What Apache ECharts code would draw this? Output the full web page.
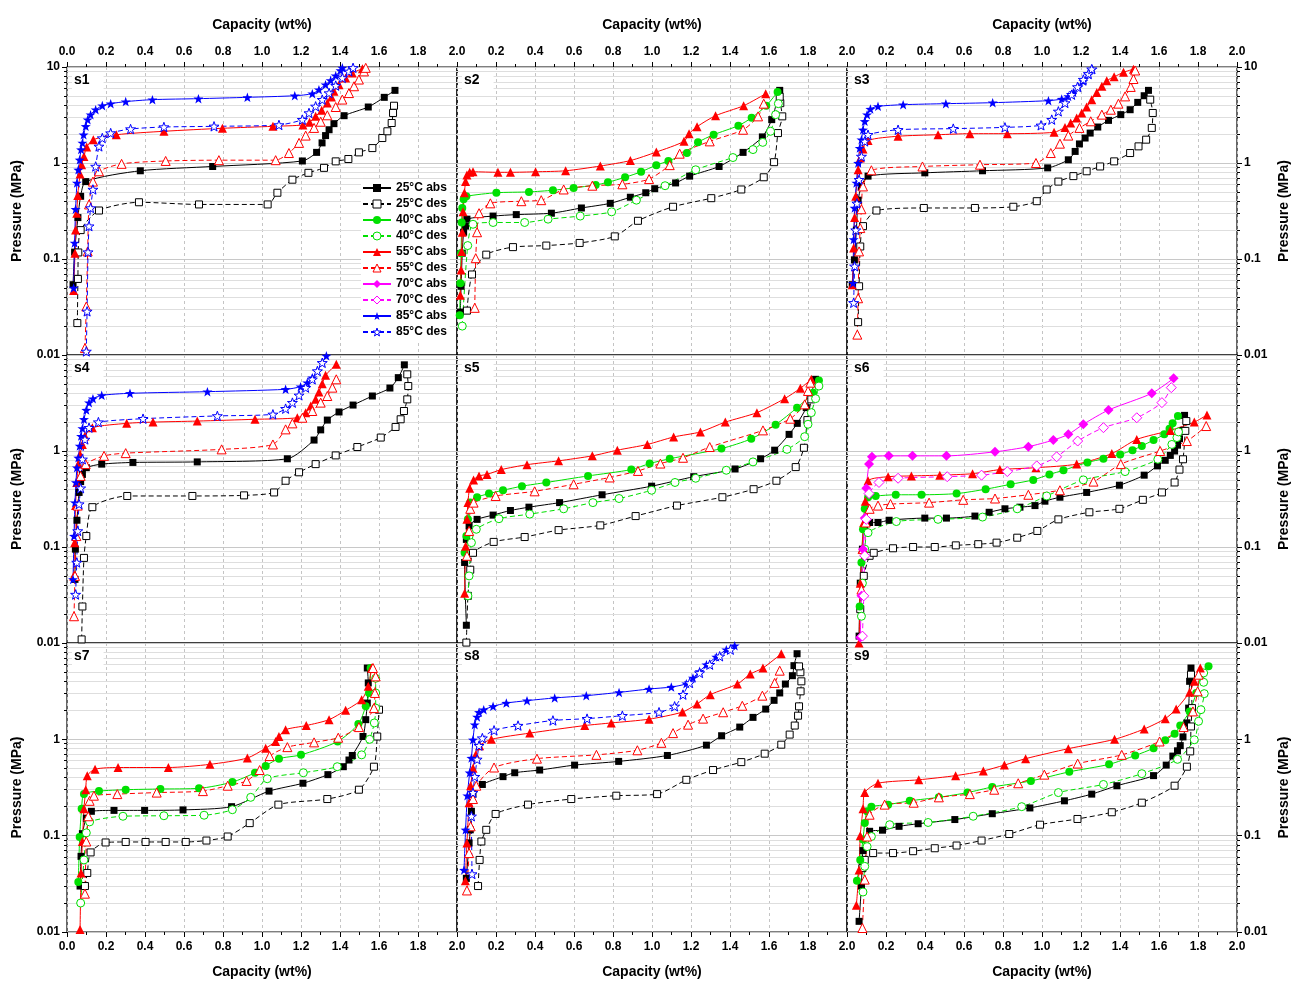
<!DOCTYPE html>
<html>
<head>
<meta charset="utf-8">
<script src="https://cdn.jsdelivr.net/npm/echarts@6/dist/echarts.min.js"></script>
<style>
  html, body { margin: 0; padding: 0; background: #fff; }
  #chart { width: 1293px; height: 983px; }
</style>
</head>
<body>
<div id="chart"></div>
<script>
// ---- data: [capacity wt%, pressure MPa] ----
const s1_a25 = [[0.031,0.054],[0.039,0.118],[0.056,0.27],[0.07,0.45],[0.096,0.64],[0.376,0.83],[0.747,0.92],[1.207,1.05],[1.28,1.29],[1.308,1.62],[1.326,1.93],[1.344,2.22],[1.369,2.57],[1.421,3.11],[1.545,3.83],[1.627,4.83],[1.682,5.71]];
const s1_d25 = [[0.053,0.0215],[0.056,0.062],[0.058,0.117],[0.07,0.2],[0.164,0.32],[0.369,0.39],[0.677,0.37],[1.029,0.37],[1.079,0.49],[1.156,0.67],[1.238,0.79],[1.318,0.89],[1.378,1.04],[1.443,1.1],[1.497,1.29],[1.566,1.43],[1.617,1.82],[1.643,2.14],[1.665,2.61],[1.672,3.32],[1.677,3.95]];
const s1_a55 = [[0.034,0.047],[0.041,0.115],[0.044,0.2],[0.05,0.3],[0.055,0.46],[0.067,0.77],[0.075,0.96],[0.087,1.17],[0.101,1.47],[0.135,1.75],[0.253,1.97],[0.497,2.14],[0.797,2.3],[1.056,2.41],[1.21,2.49],[1.244,2.66],[1.275,3.06],[1.306,3.54],[1.335,4.22],[1.356,4.87],[1.369,5.58],[1.395,6.55],[1.429,7.68],[1.463,8.66],[1.515,9.6]];
const s1_d55 = [[0.092,0.0118],[0.099,0.032],[0.106,0.12],[0.113,0.37],[0.133,0.64],[0.164,0.82],[0.28,0.98],[0.506,1.05],[0.779,1.07],[1.07,1.07],[1.138,1.27],[1.19,1.62],[1.224,1.93],[1.267,2.32],[1.301,2.69],[1.335,3.14],[1.378,3.83],[1.412,4.58],[1.446,5.35],[1.472,6.3],[1.497,7.4],[1.523,9.0],[1.532,9.8]];
const s1_a85 = [[0.034,0.05],[0.039,0.147],[0.044,0.33],[0.051,0.62],[0.058,0.85],[0.065,1.08],[0.072,1.38],[0.079,1.62],[0.085,1.97],[0.096,2.41],[0.106,2.83],[0.121,3.19],[0.147,3.59],[0.181,3.96],[0.224,4.15],[0.301,4.36],[0.438,4.57],[0.674,4.68],[0.925,4.83],[1.168,5.02],[1.258,5.27],[1.292,5.81],[1.326,6.55],[1.352,7.26],[1.378,8.12],[1.403,9.2],[1.412,9.8]];
const s1_d85 = [[0.099,0.0109],[0.103,0.0285],[0.108,0.118],[0.113,0.22],[0.121,0.34],[0.133,0.53],[0.147,0.92],[0.164,1.49],[0.181,1.82],[0.224,2.05],[0.326,2.26],[0.497,2.37],[0.754,2.41],[1.087,2.49],[1.207,2.83],[1.241,3.32],[1.275,3.89],[1.309,4.57],[1.344,5.36],[1.378,6.4],[1.412,7.7],[1.446,9.0],[1.467,9.8]];

const s2_a25 = [[0.017,0.028],[0.021,0.052],[0.027,0.115],[0.034,0.19],[0.044,0.22],[0.051,0.26],[0.185,0.28],[0.304,0.29],[0.484,0.3],[0.638,0.34],[0.786,0.38],[0.889,0.44],[0.968,0.49],[1.014,0.54],[1.121,0.62],[1.193,0.73],[1.344,0.92],[1.467,1.29],[1.566,1.87],[1.614,2.83],[1.655,5.71]];
const s2_d25 = [[0.051,0.029],[0.077,0.069],[0.15,0.111],[0.287,0.133],[0.458,0.138],[0.629,0.147],[0.809,0.172],[0.928,0.25],[1.108,0.35],[1.304,0.43],[1.458,0.53],[1.573,0.71],[1.626,1.02],[1.646,2.05],[1.668,3.06],[1.658,4.2],[1.655,4.9]];
const s2_a40 = [[0.014,0.026],[0.017,0.056],[0.021,0.115],[0.024,0.24],[0.027,0.34],[0.034,0.42],[0.048,0.45],[0.202,0.49],[0.369,0.5],[0.492,0.52],[0.598,0.55],[0.711,0.59],[0.774,0.63],[0.862,0.71],[0.944,0.81],[1.022,0.95],[1.084,1.05],[1.179,1.27],[1.236,1.64],[1.316,1.97],[1.443,2.45],[1.511,2.96],[1.586,3.95],[1.644,5.5]];
const s2_d40 = [[0.027,0.02],[0.055,0.138],[0.082,0.23],[0.185,0.24],[0.347,0.24],[0.467,0.26],[0.632,0.28],[0.793,0.31],[0.92,0.41],[1.067,0.58],[1.224,0.85],[1.415,1.14],[1.518,1.38],[1.568,1.64],[1.608,2.14],[1.634,3.19],[1.648,4.15]];
const s2_a55 = [[0.017,0.042],[0.021,0.077],[0.024,0.12],[0.027,0.19],[0.031,0.31],[0.038,0.49],[0.044,0.64],[0.051,0.75],[0.065,0.8],[0.082,0.81],[0.21,0.8],[0.274,0.8],[0.403,0.81],[0.557,0.83],[0.735,0.93],[0.889,1.06],[1.022,1.3],[1.164,1.68],[1.19,2.02],[1.231,2.39],[1.326,3.11],[1.47,3.95],[1.583,5.27]];
const s2_d55 = [[0.091,0.031],[0.096,0.102],[0.103,0.19],[0.113,0.3],[0.171,0.38],[0.33,0.4],[0.432,0.41],[0.547,0.53],[0.694,0.58],[0.848,0.6],[0.985,0.68],[1.091,0.95],[1.142,1.25],[1.296,1.68],[1.467,2.22],[1.544,3.06],[1.573,4.15]];

const s3_a25 = [[0.027,0.054],[0.038,0.098],[0.048,0.2],[0.057,0.41],[0.074,0.57],[0.108,0.73],[0.399,0.79],[0.695,0.83],[1.029,0.89],[1.135,1.08],[1.17,1.32],[1.192,1.58],[1.221,1.82],[1.247,2.05],[1.286,2.37],[1.341,2.78],[1.404,3.19],[1.452,3.59],[1.491,4.28],[1.524,5.02],[1.546,5.71]];
const s3_d25 = [[0.057,0.022],[0.062,0.052],[0.068,0.135],[0.082,0.22],[0.151,0.32],[0.394,0.34],[0.656,0.34],[0.853,0.35],[0.973,0.4],[1.024,0.53],[1.084,0.64],[1.161,0.73],[1.229,0.82],[1.298,0.92],[1.37,1.04],[1.452,1.27],[1.495,1.49],[1.534,1.75],[1.563,2.32],[1.568,3.32],[1.555,4.57]];
const s3_a55 = [[0.027,0.054],[0.034,0.13],[0.039,0.27],[0.045,0.45],[0.057,0.85],[0.068,1.13],[0.082,1.4],[0.108,1.72],[0.262,1.9],[0.467,1.97],[0.63,2.02],[0.822,2.02],[1.062,2.09],[1.118,2.35],[1.147,2.61],[1.178,2.94],[1.204,3.32],[1.229,3.83],[1.255,4.57],[1.281,5.44],[1.307,6.29],[1.332,7.2],[1.37,7.9],[1.418,8.8],[1.469,9.5]];
const s3_d55 = [[0.053,0.0163],[0.057,0.039],[0.062,0.12],[0.068,0.21],[0.074,0.33],[0.082,0.57],[0.125,0.84],[0.387,0.92],[0.682,0.96],[0.969,1.0],[1.045,1.27],[1.092,1.59],[1.135,1.93],[1.192,2.32],[1.25,2.72],[1.307,3.19],[1.353,3.59],[1.392,4.15],[1.426,4.94],[1.455,6.2],[1.469,7.5],[1.478,9.2]];
const s3_a85 = [[0.031,0.056],[0.034,0.16],[0.039,0.34],[0.048,0.62],[0.057,1.0],[0.065,1.43],[0.074,1.75],[0.082,2.22],[0.091,2.72],[0.103,3.19],[0.12,3.65],[0.159,3.89],[0.288,4.05],[0.507,4.15],[0.747,4.25],[1.033,4.46],[1.101,4.64],[1.135,4.94],[1.161,5.44],[1.187,6.2],[1.212,7.1],[1.238,8.3],[1.259,9.5]];
const s3_d85 = [[0.034,0.035],[0.039,0.084],[0.045,0.2],[0.051,0.38],[0.062,0.67],[0.074,1.17],[0.091,1.68],[0.108,1.97],[0.262,2.22],[0.545,2.28],[0.81,2.35],[0.995,2.47],[1.05,2.83],[1.084,3.45],[1.118,4.22],[1.152,5.15],[1.182,6.2],[1.212,7.4],[1.238,8.5],[1.255,9.5]];

const s4_a25 = [[0.041,0.046],[0.043,0.095],[0.051,0.19],[0.062,0.37],[0.07,0.48],[0.079,0.57],[0.099,0.67],[0.178,0.73],[0.338,0.76],[0.668,0.77],[1.13,0.83],[1.267,1.3],[1.301,1.66],[1.335,2.1],[1.395,2.55],[1.467,3.01],[1.566,3.74],[1.656,4.53],[1.699,5.81],[1.73,7.9]];
const s4_d25 = [[0.075,0.0109],[0.079,0.024],[0.087,0.077],[0.099,0.13],[0.13,0.26],[0.309,0.34],[0.643,0.34],[0.908,0.345],[1.062,0.37],[1.121,0.49],[1.19,0.6],[1.275,0.73],[1.378,0.9],[1.489,1.1],[1.609,1.38],[1.685,1.78],[1.711,2.14],[1.728,2.61],[1.745,3.45],[1.75,4.75],[1.745,6.29]];
const s4_a55 = [[0.034,0.05],[0.039,0.111],[0.044,0.27],[0.05,0.47],[0.058,0.73],[0.067,0.92],[0.079,1.17],[0.092,1.43],[0.13,1.75],[0.306,1.94],[0.441,2.0],[0.668,2.05],[0.964,2.14],[1.181,2.22],[1.224,2.51],[1.25,2.94],[1.275,3.45],[1.292,4.12],[1.309,5.02],[1.326,6.14],[1.381,8.0]];
const s4_d55 = [[0.036,0.019],[0.041,0.05],[0.048,0.13],[0.055,0.27],[0.07,0.55],[0.096,0.73],[0.19,0.89],[0.301,0.95],[0.793,1.04],[1.056,1.17],[1.121,1.68],[1.156,1.94],[1.207,2.22],[1.258,2.61],[1.301,3.19],[1.335,3.74],[1.361,4.57],[1.381,5.58]];
const s4_a85 = [[0.031,0.046],[0.036,0.13],[0.041,0.29],[0.046,0.47],[0.051,0.67],[0.058,0.85],[0.065,1.13],[0.072,1.43],[0.079,1.72],[0.087,2.14],[0.099,2.67],[0.113,3.19],[0.133,3.51],[0.178,3.8],[0.323,3.99],[0.72,4.15],[1.121,4.39],[1.198,4.68],[1.232,5.15],[1.258,5.81],[1.284,6.81],[1.309,8.3],[1.33,9.8]];
const s4_d85 = [[0.044,0.032],[0.05,0.069],[0.055,0.147],[0.062,0.28],[0.07,0.41],[0.079,0.82],[0.092,1.32],[0.113,1.75],[0.161,2.0],[0.39,2.17],[0.771,2.32],[1.056,2.41],[1.121,2.76],[1.156,3.19],[1.19,3.8],[1.224,4.57],[1.258,5.58],[1.284,6.81],[1.309,8.3]];

const s5_a25 = [[0.048,0.0153],[0.039,0.069],[0.048,0.12],[0.062,0.166],[0.103,0.194],[0.185,0.215],[0.274,0.24],[0.369,0.26],[0.526,0.29],[0.744,0.35],[0.998,0.43],[1.214,0.54],[1.426,0.65],[1.557,0.83],[1.629,1.02],[1.703,1.49],[1.745,1.94],[1.791,2.83],[1.839,5.58]];
const s5_d25 = [[0.048,0.0101],[0.056,0.031],[0.068,0.058],[0.082,0.087],[0.188,0.113],[0.347,0.127],[0.521,0.15],[0.735,0.168],[0.916,0.21],[1.128,0.27],[1.361,0.33],[1.521,0.4],[1.638,0.49],[1.737,0.68],[1.779,1.08],[1.797,2.1],[1.817,3.45]];
const s5_a40 = [[0.039,0.087],[0.048,0.13],[0.056,0.194],[0.068,0.29],[0.103,0.33],[0.164,0.36],[0.236,0.39],[0.333,0.43],[0.458,0.47],[0.672,0.55],[0.894,0.64],[0.988,0.74],[1.091,0.83],[1.356,1.06],[1.509,1.34],[1.634,1.88],[1.744,2.83],[1.826,4.05],[1.856,5.44]];
const s5_d40 = [[0.056,0.031],[0.062,0.05],[0.074,0.111],[0.099,0.153],[0.215,0.197],[0.373,0.22],[0.547,0.25],[0.697,0.29],[0.831,0.32],[0.998,0.39],[1.118,0.47],[1.224,0.52],[1.381,0.63],[1.518,0.77],[1.692,1.04],[1.783,1.41],[1.8,1.9],[1.817,2.51],[1.839,3.51],[1.856,4.75]];
const s5_a55 = [[0.039,0.033],[0.044,0.102],[0.051,0.194],[0.056,0.29],[0.065,0.41],[0.085,0.5],[0.113,0.55],[0.154,0.57],[0.227,0.64],[0.359,0.72],[0.521,0.79],[0.694,0.89],[0.822,1.02],[0.976,1.17],[1.111,1.4],[1.248,1.58],[1.376,2.0],[1.538,2.51],[1.68,3.51],[1.761,4.5],[1.817,5.58]];
const s5_d55 = [[0.051,0.081],[0.062,0.147],[0.068,0.25],[0.085,0.29],[0.198,0.34],[0.398,0.38],[0.598,0.45],[0.783,0.53],[0.928,0.62],[1.043,0.74],[1.159,0.85],[1.296,1.1],[1.569,1.64],[1.709,2.17],[1.783,3.06],[1.8,4.22],[1.812,5.15]];

const s6_a25 = [[0.062,0.0118],[0.068,0.042],[0.079,0.095],[0.091,0.153],[0.116,0.18],[0.159,0.18],[0.216,0.19],[0.399,0.2],[0.51,0.2],[0.656,0.21],[0.729,0.23],[0.81,0.25],[0.887,0.26],[0.964,0.27],[1.015,0.3],[1.092,0.33],[1.229,0.37],[1.397,0.44],[1.524,0.56],[1.592,0.7],[1.632,0.8],[1.658,0.9],[1.68,1.0],[1.695,1.15],[1.705,1.34],[1.723,1.64],[1.731,2.35]];
const s6_d25 = [[0.068,0.0225],[0.086,0.05],[0.116,0.081],[0.137,0.087],[0.236,0.097],[0.339,0.1],[0.45,0.1],[0.558,0.104],[0.673,0.107],[0.767,0.111],[0.873,0.125],[0.976,0.147],[1.084,0.194],[1.243,0.23],[1.397,0.25],[1.517,0.31],[1.615,0.37],[1.68,0.47],[1.705,0.64],[1.723,0.82],[1.735,1.62],[1.74,2.05]];
const s6_a40 = [[0.065,0.024],[0.074,0.069],[0.082,0.153],[0.091,0.25],[0.108,0.33],[0.147,0.34],[0.25,0.35],[0.382,0.35],[0.562,0.36],[0.711,0.4],[0.839,0.45],[0.955,0.5],[1.038,0.57],[1.11,0.63],[1.233,0.76],[1.315,0.83],[1.401,0.92],[1.464,1.02],[1.512,1.13],[1.572,1.3],[1.627,1.49],[1.654,1.71],[1.67,1.94],[1.697,2.32]];
const s6_d40 = [[0.074,0.019],[0.079,0.042],[0.091,0.095],[0.108,0.141],[0.253,0.184],[0.467,0.194],[0.695,0.205],[0.873,0.25],[1.024,0.34],[1.212,0.5],[1.426,0.61],[1.594,0.82],[1.666,1.17],[1.692,1.38],[1.7,1.58]];
const s6_a55 = [[0.062,0.01],[0.068,0.042],[0.077,0.095],[0.086,0.18],[0.094,0.3],[0.108,0.49],[0.211,0.54],[0.33,0.55],[0.476,0.56],[0.644,0.58],[0.784,0.64],[0.969,0.67],[1.178,0.73],[1.358,0.94],[1.486,1.32],[1.658,1.64],[1.781,2.0],[1.846,2.37]];
const s6_d55 = [[0.074,0.036],[0.082,0.095],[0.096,0.18],[0.116,0.25],[0.159,0.27],[0.223,0.28],[0.421,0.29],[0.596,0.31],[0.759,0.32],[0.93,0.35],[1.092,0.39],[1.264,0.48],[1.404,0.73],[1.606,1.0],[1.743,1.27],[1.842,1.82]];
const s6_a70 = [[0.068,0.0114],[0.074,0.031],[0.082,0.095],[0.091,0.2],[0.099,0.41],[0.113,0.73],[0.128,0.87],[0.214,0.89],[0.336,0.89],[0.51,0.89],[0.759,0.98],[0.93,1.11],[1.058,1.3],[1.135,1.49],[1.212,1.9],[1.341,2.67],[1.563,3.99],[1.675,5.71]];
const s6_d70 = [[0.079,0.0118],[0.086,0.031],[0.091,0.081],[0.099,0.194],[0.113,0.36],[0.164,0.47],[0.262,0.52],[0.514,0.54],[0.69,0.56],[0.822,0.61],[0.973,0.7],[1.075,0.87],[1.183,1.27],[1.315,1.75],[1.486,2.22],[1.615,3.19],[1.663,4.57]];

const s7_a25 = [[0.067,0.03],[0.072,0.061],[0.079,0.105],[0.099,0.152],[0.125,0.179],[0.241,0.183],[0.398,0.183],[0.595,0.185],[0.844,0.2],[1.036,0.29],[1.21,0.35],[1.338,0.43],[1.417,0.52],[1.446,0.61],[1.463,0.68],[1.518,1.07],[1.532,1.6],[1.54,2.38],[1.545,3.85],[1.54,5.5]];
const s7_d25 = [[0.092,0.03],[0.104,0.041],[0.121,0.067],[0.198,0.085],[0.301,0.086],[0.403,0.086],[0.506,0.086],[0.609,0.086],[0.715,0.089],[0.824,0.098],[0.937,0.135],[1.084,0.21],[1.335,0.24],[1.497,0.3],[1.574,0.52],[1.591,1.07],[1.6,2.03]];
const s7_a40 = [[0.058,0.033],[0.065,0.097],[0.075,0.19],[0.087,0.27],[0.164,0.29],[0.301,0.3],[0.479,0.305],[0.677,0.31],[0.848,0.36],[0.964,0.45],[1.019,0.53],[1.087,0.63],[1.2,0.69],[1.388,0.95],[1.494,1.44],[1.532,2.2],[1.549,3.03],[1.557,5.5]];
const s7_d40 = [[0.07,0.02],[0.087,0.056],[0.099,0.107],[0.116,0.139],[0.287,0.159],[0.497,0.161],[0.703,0.163],[0.848,0.186],[0.942,0.25],[1.027,0.39],[1.212,0.45],[1.386,0.52],[1.511,0.69],[1.552,1.0],[1.576,1.48],[1.583,2.11],[1.583,3.03],[1.583,4.3]];
const s7_a55 = [[0.067,0.0106],[0.072,0.041],[0.079,0.087],[0.087,0.19],[0.096,0.3],[0.104,0.42],[0.144,0.49],[0.262,0.51],[0.52,0.51],[0.733,0.55],[0.925,0.64],[1.019,0.81],[1.07,0.95],[1.087,1.07],[1.121,1.26],[1.227,1.39],[1.344,1.6],[1.429,2.0],[1.511,2.58],[1.545,3.55],[1.562,5.5]];
const s7_d55 = [[0.092,0.025],[0.099,0.087],[0.109,0.159],[0.116,0.23],[0.138,0.26],[0.258,0.27],[0.46,0.28],[0.697,0.29],[0.824,0.33],[0.921,0.37],[0.988,0.48],[1.039,0.67],[1.13,0.83],[1.267,0.93],[1.391,1.04],[1.497,1.34],[1.574,2.11],[1.579,3.03],[1.583,4.5],[1.569,5.5]];

const s8_a25 = [[0.048,0.036],[0.062,0.084],[0.068,0.115],[0.074,0.179],[0.082,0.27],[0.13,0.34],[0.236,0.41],[0.296,0.45],[0.424,0.48],[0.603,0.54],[0.829,0.59],[1.079,0.68],[1.279,0.87],[1.357,1.09],[1.45,1.34],[1.518,1.69],[1.583,2.06],[1.626,2.54],[1.655,3.03],[1.684,3.75],[1.72,4.58],[1.728,5.82],[1.744,7.74]];
const s8_d25 = [[0.108,0.03],[0.116,0.056],[0.125,0.087],[0.15,0.115],[0.198,0.168],[0.364,0.21],[0.586,0.24],[0.817,0.26],[1.026,0.27],[1.176,0.38],[1.313,0.48],[1.458,0.58],[1.578,0.71],[1.663,0.88],[1.706,1.12],[1.732,1.39],[1.749,1.76],[1.754,2.2],[1.762,3.15],[1.766,4.0],[1.761,4.97],[1.754,5.72]];
const s8_a55 = [[0.043,0.034],[0.051,0.084],[0.062,0.22],[0.07,0.33],[0.082,0.5],[0.096,0.69],[0.116,0.86],[0.176,1.0],[0.373,1.16],[0.655,1.39],[0.791,1.48],[0.985,1.62],[1.156,1.92],[1.231,2.33],[1.299,2.91],[1.438,3.75],[1.504,4.76],[1.569,5.5],[1.663,7.74]];
const s8_d55 = [[0.051,0.027],[0.062,0.066],[0.07,0.125],[0.082,0.24],[0.099,0.33],[0.19,0.51],[0.41,0.63],[0.715,0.69],[0.925,0.77],[1.048,0.92],[1.108,1.16],[1.185,1.42],[1.262,1.64],[1.365,1.91],[1.463,2.23],[1.566,2.84],[1.629,3.85],[1.655,5.16]];
const s8_a85 = [[0.036,0.044],[0.044,0.115],[0.053,0.26],[0.065,0.45],[0.074,0.64],[0.082,0.99],[0.091,1.42],[0.103,1.71],[0.113,1.91],[0.137,2.03],[0.185,2.2],[0.253,2.38],[0.359,2.52],[0.501,2.69],[0.663,2.84],[0.831,3.07],[0.985,3.33],[1.099,3.49],[1.176,3.78],[1.21,4.34],[1.244,5.08],[1.279,5.96],[1.33,7.16],[1.381,8.53],[1.424,9.38]];
const s8_d85 = [[0.077,0.04],[0.074,0.159],[0.082,0.28],[0.091,0.41],[0.103,0.62],[0.113,0.86],[0.13,1.03],[0.19,1.24],[0.313,1.39],[0.492,1.57],[0.667,1.64],[0.848,1.76],[1.036,1.91],[1.116,2.2],[1.159,2.91],[1.193,3.85],[1.244,4.89],[1.296,5.96],[1.347,7.28],[1.402,8.53]];

const s9_a25 = [[0.062,0.0129],[0.074,0.03],[0.082,0.07],[0.116,0.111],[0.182,0.114],[0.267,0.125],[0.365,0.133],[0.553,0.147],[0.745,0.169],[0.938,0.194],[1.115,0.23],[1.255,0.27],[1.384,0.33],[1.572,0.42],[1.637,0.54],[1.671,0.67],[1.695,0.76],[1.709,0.86],[1.723,1.06],[1.743,1.48],[1.752,2.11],[1.757,4.0],[1.764,5.5]];
const s9_d25 = [[0.079,0.046],[0.091,0.056],[0.134,0.066],[0.236,0.066],[0.339,0.069],[0.45,0.074],[0.562,0.079],[0.69,0.089],[0.832,0.104],[0.99,0.13],[1.182,0.149],[1.358,0.175],[1.512,0.22],[1.68,0.33],[1.743,0.52],[1.76,0.75],[1.764,1.36],[1.769,2.11],[1.764,4.69]];
const s9_a40 = [[0.051,0.034],[0.068,0.056],[0.082,0.091],[0.091,0.135],[0.103,0.179],[0.125,0.2],[0.211,0.21],[0.322,0.23],[0.471,0.25],[0.618,0.28],[0.745,0.32],[0.943,0.37],[1.14,0.46],[1.344,0.55],[1.478,0.68],[1.572,0.81],[1.632,0.98],[1.68,1.14],[1.709,1.39],[1.757,1.95],[1.791,3.03],[1.82,4.89],[1.854,5.73]];
const s9_d40 = [[0.082,0.026],[0.091,0.048],[0.103,0.077],[0.125,0.098],[0.219,0.13],[0.416,0.137],[0.647,0.159],[0.896,0.2],[1.084,0.28],[1.315,0.34],[1.512,0.44],[1.695,0.62],[1.781,0.99],[1.803,1.54],[1.815,2.03],[1.832,2.98],[1.829,3.91],[1.829,4.89]];
const s9_a55 = [[0.048,0.019],[0.062,0.044],[0.068,0.1],[0.082,0.19],[0.091,0.28],[0.159,0.35],[0.368,0.38],[0.557,0.42],[0.699,0.47],[0.807,0.54],[0.916,0.63],[1.135,0.8],[1.372,1.0],[1.524,1.28],[1.632,1.64],[1.688,2.06],[1.757,3.08],[1.781,4.0],[1.812,5.5]];
const s9_d55 = [[0.079,0.011],[0.091,0.035],[0.103,0.098],[0.116,0.165],[0.193,0.21],[0.342,0.22],[0.471,0.25],[0.63,0.27],[0.755,0.3],[0.878,0.35],[1.012,0.43],[1.183,0.56],[1.409,0.69],[1.603,0.95],[1.726,1.34],[1.774,1.95],[1.798,3.15],[1.803,4.69]];

const panelLabels = ['s1','s2','s3','s4','s5','s6','s7','s8','s9'];
const legendNames = ['25°C abs','25°C des','40°C abs','40°C des','55°C abs','55°C des','70°C abs','70°C des','85°C abs','85°C des'];
const xTicks = [0, 2, 0.2];       // min, max, step
const yLimits = [0.01, 10];

const panelSeries = [
  [['25°C abs', s1_a25], ['25°C des', s1_d25], ['55°C abs', s1_a55], ['55°C des', s1_d55], ['85°C abs', s1_a85], ['85°C des', s1_d85]],
  [['25°C abs', s2_a25], ['25°C des', s2_d25], ['40°C abs', s2_a40], ['40°C des', s2_d40], ['55°C abs', s2_a55], ['55°C des', s2_d55]],
  [['25°C abs', s3_a25], ['25°C des', s3_d25], ['55°C abs', s3_a55], ['55°C des', s3_d55], ['85°C abs', s3_a85], ['85°C des', s3_d85]],
  [['25°C abs', s4_a25], ['25°C des', s4_d25], ['55°C abs', s4_a55], ['55°C des', s4_d55], ['85°C abs', s4_a85], ['85°C des', s4_d85]],
  [['25°C abs', s5_a25], ['25°C des', s5_d25], ['40°C abs', s5_a40], ['40°C des', s5_d40], ['55°C abs', s5_a55], ['55°C des', s5_d55]],
  [['25°C abs', s6_a25], ['25°C des', s6_d25], ['40°C abs', s6_a40], ['40°C des', s6_d40], ['55°C abs', s6_a55], ['55°C des', s6_d55], ['70°C abs', s6_a70], ['70°C des', s6_d70]],
  [['25°C abs', s7_a25], ['25°C des', s7_d25], ['40°C abs', s7_a40], ['40°C des', s7_d40], ['55°C abs', s7_a55], ['55°C des', s7_d55]],
  [['25°C abs', s8_a25], ['25°C des', s8_d25], ['55°C abs', s8_a55], ['55°C des', s8_d55], ['85°C abs', s8_a85], ['85°C des', s8_d85]],
  [['25°C abs', s9_a25], ['25°C des', s9_d25], ['40°C abs', s9_a40], ['40°C des', s9_d40], ['55°C abs', s9_a55], ['55°C des', s9_d55]]
];

// ---- styles ----
const FONT = '"Liberation Sans", Arial, sans-serif';
const STAR = 'path://M0,-10L2.35,-3.24L9.51,-3.09L3.8,1.24L5.88,8.09L0,4L-5.88,8.09L-3.8,1.24L-9.51,-3.09L-2.35,-3.24Z';
const styles = {
  '25°C abs': { color: '#000000', symbol: 'rect', size: 7, hollow: false },
  '25°C des': { color: '#000000', symbol: 'rect', size: 7, hollow: true },
  '40°C abs': { color: '#00e000', symbol: 'circle', size: 8, hollow: false },
  '40°C des': { color: '#00e000', symbol: 'circle', size: 8, hollow: true },
  '55°C abs': { color: '#ff0000', symbol: 'triangle', size: 9, hollow: false },
  '55°C des': { color: '#ff0000', symbol: 'triangle', size: 9, hollow: true },
  '70°C abs': { color: '#ff00ff', symbol: 'diamond', size: 10, hollow: false },
  '70°C des': { color: '#ff00ff', symbol: 'diamond', size: 10, hollow: true },
  '85°C abs': { color: '#0000ff', symbol: STAR, size: 10, hollow: false },
  '85°C des': { color: '#0000ff', symbol: STAR, size: 10, hollow: true }
};

const colLeft = [67, 457, 847];
const rowTop = [67, 355, 643];
const rowH = [288, 288, 289];
const W = 390;

// minor log grid lines 2..9 per decade
const minorGrid = [];
[0.01, 0.1, 1].forEach(d => { for (let k = 2; k <= 9; k++) minorGrid.push(+(k * d).toFixed(3)); });

const grids = [], xAxes = [], yAxes = [], series = [], graphics = [];

panelSeries.forEach((list, i) => {
  const col = i % 3, row = Math.floor(i / 3);
  grids.push({
    left: colLeft[col], top: rowTop[row], width: W, height: rowH[row],
    show: true, borderColor: '#000', borderWidth: 1.2, backgroundColor: 'transparent',
    outerBoundsMode: 'none'
  });
  const xOuter = row !== 1;
  xAxes.push({
    gridIndex: i, type: 'value', min: xTicks[0], max: xTicks[1], interval: xTicks[2],
    position: row === 0 ? 'top' : 'bottom',
    name: xOuter ? 'Capacity (wt%)' : '', nameLocation: 'middle', nameGap: row === 0 ? 35 : 33,
    nameTextStyle: { fontFamily: FONT, fontWeight: 'bold', fontSize: 14, color: '#000' },
    axisLine: { show: false, onZero: false },
    axisTick: { show: xOuter, length: 5, lineStyle: { color: '#000' } },
    minorTick: { show: xOuter, splitNumber: 2, length: 3, lineStyle: { color: '#000' } },
    axisLabel: {
      show: xOuter, showMinLabel: col === 0, showMaxLabel: true, margin: 9,
      fontFamily: FONT, fontWeight: 'bold', fontSize: 12, color: '#000',
      formatter: v => v.toFixed(1)
    },
    splitLine: { show: true, lineStyle: { type: [3, 3], color: '#c4c4c4', width: 1 } }
  });
  const yOuter = col !== 1;
  yAxes.push({
    gridIndex: i, type: 'log', logBase: 10, min: yLimits[0], max: yLimits[1],
    position: col === 2 ? 'right' : 'left',
    name: yOuter ? 'Pressure (MPa)' : '', nameLocation: 'middle', nameRotate: 90,
    nameGap: col === 0 ? 43 : 40,
    nameTextStyle: { fontFamily: FONT, fontWeight: 'bold', fontSize: 14, color: '#000' },
    axisLine: { show: false, onZero: false },
    axisTick: { show: yOuter, length: 5, lineStyle: { color: '#000' } },
    minorTick: { show: yOuter, splitNumber: 9, length: 3, lineStyle: { color: '#000' } },
    axisLabel: {
      show: yOuter, showMaxLabel: row === 0, showMinLabel: true, margin: 7,
      fontFamily: FONT, fontWeight: 'bold', fontSize: 12, color: '#000'
    },
    splitLine: { show: true, lineStyle: { color: '#c8c8c8', width: 1 } }
  });

  list.forEach(([name, pts], k) => {
    const st = styles[name];
    const s = {
      type: 'line', name, xAxisIndex: i, yAxisIndex: i, data: pts,
      symbol: st.symbol, symbolSize: st.size, symbolKeepAspect: true,
      smooth: 0.25,
      lineStyle: { color: st.color, width: 1, type: st.hollow ? [5, 3] : 'solid' },
      itemStyle: st.hollow
        ? { color: '#fff', borderColor: st.color, borderWidth: 1 }
        : { color: st.color },
      emphasis: { disabled: true },
      z: 3
    };
    if (k === 0) {
      s.markLine = {
        silent: true, symbol: ['none', 'none'], label: { show: false }, z: 1,
        lineStyle: { color: '#dedede', type: 'solid', width: 1 },
        emphasis: { disabled: true },
        data: minorGrid.map(v => ({ yAxis: v }))
      };
    }
    series.push(s);
  });

  graphics.push({
    type: 'text', left: colLeft[col] + 5, top: rowTop[row] + 5, z: 10,
    style: {
      text: panelLabels[i], font: 'bold 14px ' + FONT, fill: '#000',
      backgroundColor: '#fff', padding: [1, 14, 2, 2]
    }
  });
});

// legend entries: hollow markers need an explicit white fill
const legendData = legendNames.map(name => {
  const st = styles[name];
  return st.hollow
    ? { name, itemStyle: { color: '#fff', borderColor: st.color, borderWidth: 1 } }
    : { name, itemStyle: { color: st.color, borderWidth: 0 } };
});

const chart = echarts.init(document.getElementById('chart'), null, { renderer: 'canvas' });
chart.setOption({
  animation: false,
  backgroundColor: '#fff',
  grid: grids,
  xAxis: xAxes,
  yAxis: yAxes,
  series: series,
  graphic: graphics,
  legend: {
    data: legendData, orient: 'vertical', left: 361, top: 180,
    itemWidth: 28, itemHeight: 10, itemGap: 2, padding: [1, 3, 1, 1],
    backgroundColor: '#fff', selectedMode: false,
    textStyle: { fontFamily: FONT, fontWeight: 'bold', fontSize: 12, color: '#000', lineHeight: 14 }
  }
});
</script>
</body>
</html>
